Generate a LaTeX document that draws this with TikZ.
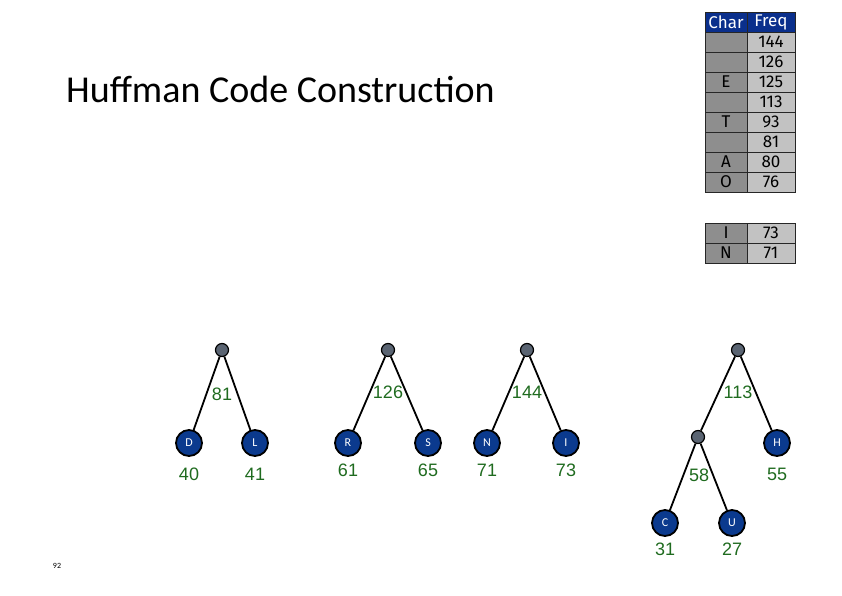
\documentclass[tikz,border=0pt]{standalone}
\usepackage{fontspec}
\setmainfont{Carlito}
\newfontfamily\numfont{Liberation Sans}
\newfontfamily\tabfont{Fira Sans}
\definecolor{hdrblue}{HTML}{0A2F8C}
\definecolor{charg}{HTML}{8E8E8E}
\definecolor{freqg}{HTML}{C2C2C2}
\definecolor{leafblue}{HTML}{0B3A8E}
\definecolor{rootg}{HTML}{5A6472}
\definecolor{numgreen}{HTML}{1F6B1F}
\begin{document}
\begin{tikzpicture}[x=1pt,y=-1pt,
  cell/.style={draw=black!85, line width=0.6pt, minimum height=20pt, inner sep=0pt, font=\tabfont\fontsize{17}{17}\selectfont},
  charcell/.style={cell, fill=charg, minimum width=42pt},
  freqcell/.style={cell, fill=freqg, minimum width=48pt},
  hdrcell/.style={cell, fill=hdrblue, text=white},
  leaf/.style={circle, draw=black, line width=1.8pt, fill=leafblue, minimum size=26pt, inner sep=0pt, text=white, font=\fontsize{12}{12}\selectfont},
  inode/.style={circle, draw=black, line width=1.2pt, fill=rootg, minimum size=13pt, inner sep=0pt},
  edge/.style={draw=black, line width=1.8pt},
  num/.style={text=numgreen, font=\numfont\fontsize{18}{18}\selectfont, inner sep=0pt}
]
\useasboundingbox (0,0) rectangle (842,595);

% title
\node[anchor=west, font=\fontsize{38}{38}\selectfont, inner sep=0pt] (title) at (66,89) {Huffman Code Construction};
\node[font=\fontsize{8}{8}\selectfont, inner sep=0pt] (pg) at (57,566) {92};

% table
\node[hdrcell, minimum width=42pt] (hc) at (726,22) {Char};
\node[hdrcell, minimum width=48pt] (hf) at (771,22) {Freq};
\foreach \c/\f [count=\i] in {/144,/126,E/125,/113,T/93,/81,A/80,O/76}{
  \node[charcell] (c\i) at (726,22+20*\i) {\c};
  \node[freqcell] (f\i) at (771,22+20*\i) {\f};
}
\foreach \c/\f [count=\i] in {I/73,N/71}{
  \node[charcell] (cc\i) at (726,213+20*\i) {\c};
  \node[freqcell] (ff\i) at (771,213+20*\i) {\f};
}

% tree 1
\node[inode] (r1) at (222,350) {};
\node[leaf] (D) at (189,443) {D};
\node[leaf] (L) at (255,443) {L};
\draw[edge] (r1) -- (D);
\draw[edge] (r1) -- (L);
\node[num] (n81) at (222,394) {81};
\node[num] (n40) at (189,474) {40};
\node[num] (n41) at (255,474) {41};

% tree 2
\node[inode] (r2) at (388,350) {};
\node[leaf] (R) at (348,443) {R};
\node[leaf] (S) at (428,443) {S};
\draw[edge] (r2) -- (R);
\draw[edge] (r2) -- (S);
\node[num] (n126) at (388,392) {126};
\node[num] (n61) at (348,470) {61};
\node[num] (n65) at (428,470) {65};

% tree 3
\node[inode] (r3) at (527,350) {};
\node[leaf] (N) at (487,443) {N};
\node[leaf] (I) at (566,443) {I};
\draw[edge] (r3) -- (N);
\draw[edge] (r3) -- (I);
\node[num] (n144) at (527,392) {144};
\node[num] (n71) at (487,470) {71};
\node[num] (n73) at (566,470) {73};

% tree 4
\node[inode] (r4) at (738,350) {};
\node[inode] (m58) at (698,437) {};
\node[leaf] (H) at (777,443) {H};
\node[leaf] (C) at (665,523) {C};
\node[leaf] (U) at (732,523) {U};
\draw[edge] (r4) -- (m58);
\draw[edge] (r4) -- (H);
\draw[edge] (m58) -- (C);
\draw[edge] (m58) -- (U);
\node[num] (n113) at (738,392) {113};
\node[num] (n58) at (699,475) {58};
\node[num] (n55) at (777,474) {55};
\node[num] (n31) at (665,549) {31};
\node[num] (n27) at (732,549) {27};
\end{tikzpicture}
\end{document}
